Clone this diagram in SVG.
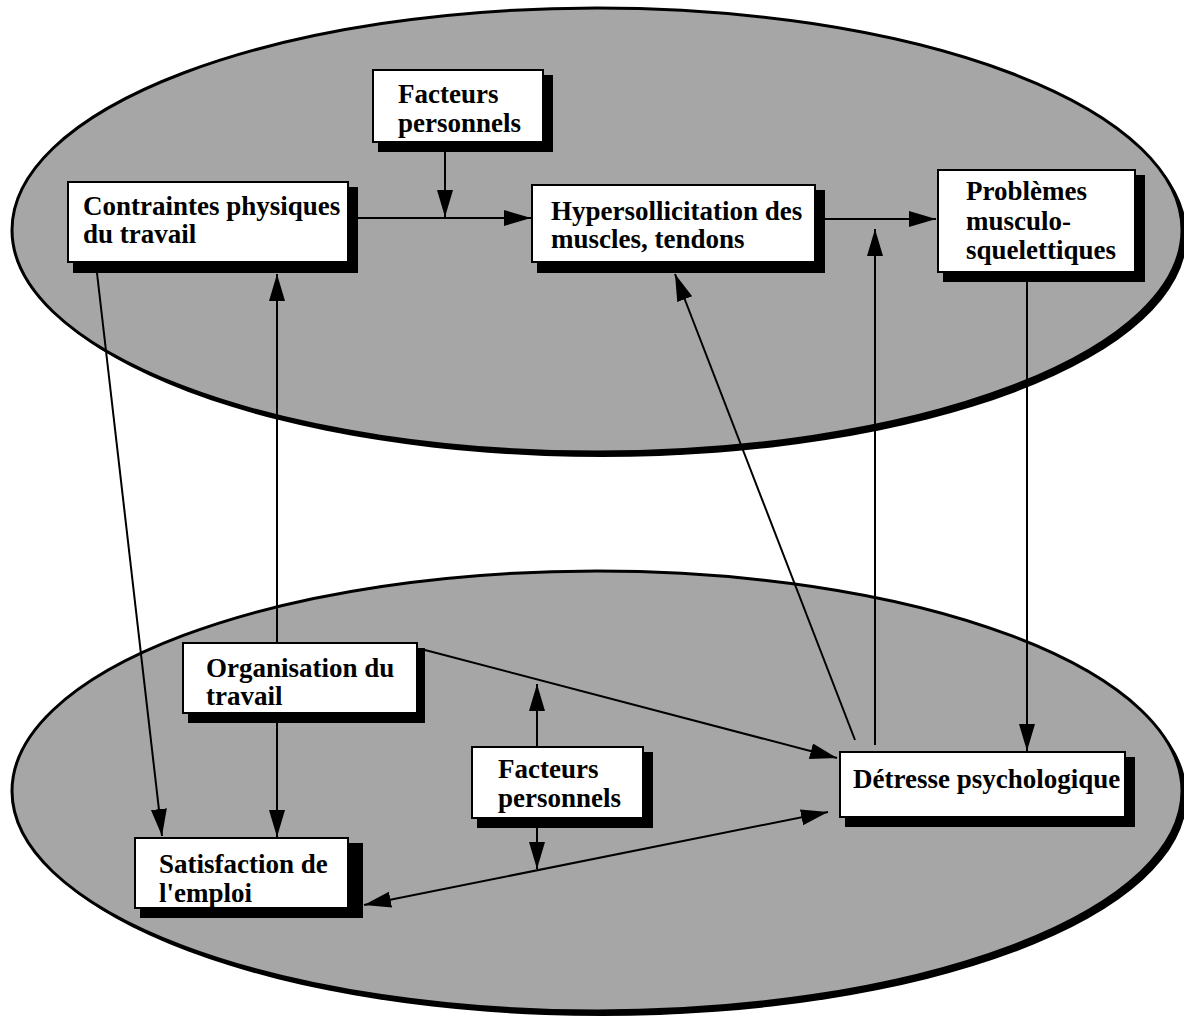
<svg xmlns="http://www.w3.org/2000/svg" width="1184" height="1018" viewBox="0 0 1184 1018">
<defs>
<style>
.ell{fill:#a6a6a6;stroke:#000;stroke-width:3}
.ellsh{fill:#000}
.box{fill:#fff;stroke:#000;stroke-width:2}
.sh{fill:#000}
.t{font-family:"Liberation Serif","Times New Roman",serif;font-weight:bold;font-size:27px;fill:#000}
.c{stroke:#000;stroke-width:2;fill:none}
</style>
<marker id="ah" markerUnits="userSpaceOnUse" markerWidth="28" markerHeight="18" refX="27" refY="8" orient="auto-start-reverse">
<path d="M0,0 L27,8 L0,16 z" fill="#000"/>
</marker>
</defs>
<rect width="1184" height="1018" fill="#fff"/>
<g id="layer-top">
<ellipse class="ellsh" cx="602" cy="235" rx="585" ry="222"/>
<ellipse class="ell" cx="597" cy="230" rx="585" ry="222"/>
</g>
<g id="layer-bottom">
<ellipse class="ellsh" cx="602" cy="796" rx="585" ry="220"/>
<ellipse class="ell" cx="597" cy="791" rx="585" ry="220"/>
</g>
<g id="connectors">
<path class="c" d="M358,218 L531,218" marker-end="url(#ah)"/>
<path class="c" d="M445,152 L445,217" marker-end="url(#ah)"/>
<path class="c" d="M825,219 L936,219" marker-end="url(#ah)"/>
<path class="c" d="M875,745 L875,229" marker-end="url(#ah)"/>
<path class="c" d="M855,740 L675,274" marker-end="url(#ah)"/>
<path class="c" d="M1027,282 L1027,751" marker-end="url(#ah)"/>
<path class="c" d="M97,273 L162,836" marker-end="url(#ah)"/>
<path class="c" d="M277,643 L277,274" marker-end="url(#ah)"/>
<path class="c" d="M277,723 L277,837" marker-end="url(#ah)"/>
<path class="c" d="M425,650 L837,758" marker-end="url(#ah)"/>
<path class="c" d="M537,747 L537,684" marker-end="url(#ah)"/>
<path class="c" d="M537,828 L537,869" marker-end="url(#ah)"/>
<path class="c" d="M364,905 L828,812" marker-start="url(#ah)" marker-end="url(#ah)"/>
</g>
<g id="facteurs-top">
<rect class="sh" x="378" y="75" width="175" height="77"/>
<rect class="box" x="373" y="70" width="170" height="72"/>
<text class="t" x="398" y="103">Facteurs</text>
<text class="t" x="398" y="132">personnels</text>
</g>
<g id="contraintes">
<rect class="sh" x="73" y="187" width="285" height="86"/>
<rect class="box" x="68" y="182" width="280" height="80"/>
<text class="t" x="83" y="215">Contraintes physiques</text>
<text class="t" x="83" y="243">du travail</text>
</g>
<g id="hyper">
<rect class="sh" x="537" y="190" width="288" height="83"/>
<rect class="box" x="532" y="185" width="283" height="77"/>
<text class="t" x="551" y="220">Hypersollicitation des</text>
<text class="t" x="551" y="248">muscles, tendons</text>
</g>
<g id="problemes">
<rect class="sh" x="943" y="175" width="202" height="107"/>
<rect class="box" x="938" y="170" width="197" height="102"/>
<text class="t" x="966" y="200">Problèmes</text>
<text class="t" x="966" y="230">musculo-</text>
<text class="t" x="966" y="259">squelettiques</text>
</g>
<g id="organisation">
<rect class="sh" x="188" y="648" width="237" height="75"/>
<rect class="box" x="183" y="643" width="234" height="70"/>
<text class="t" x="206" y="677">Organisation du</text>
<text class="t" x="206" y="705">travail</text>
</g>
<g id="facteurs-bottom">
<rect class="sh" x="477" y="752" width="176" height="76"/>
<rect class="box" x="472" y="747" width="171" height="71"/>
<text class="t" x="498" y="778">Facteurs</text>
<text class="t" x="498" y="807">personnels</text>
</g>
<g id="detresse">
<rect class="sh" x="845" y="757" width="290" height="70"/>
<rect class="box" x="840" y="752" width="285" height="65"/>
<text class="t" x="853" y="788">Détresse psychologique</text>
</g>
<g id="satisfaction">
<rect class="sh" x="140" y="843" width="223" height="75"/>
<rect class="box" x="135" y="838" width="213" height="70"/>
<text class="t" x="159" y="873">Satisfaction de</text>
<text class="t" x="159" y="902">l'emploi</text>
</g>
</svg>
